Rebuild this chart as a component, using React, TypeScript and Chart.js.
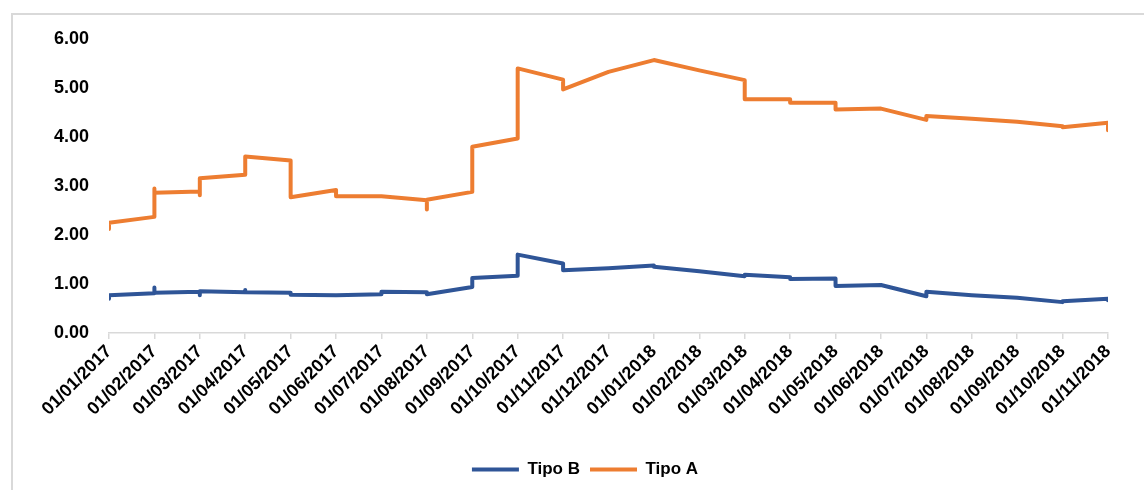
import { useEffect, useRef } from 'react';
import { Chart, registerables } from 'chart.js';

Chart.register(...registerables);

// Month ticks along the x axis (one category per month)
const monthLabels: string[] = [
  '01/01/2017', '01/02/2017', '01/03/2017', '01/04/2017', '01/05/2017', '01/06/2017',
  '01/07/2017', '01/08/2017', '01/09/2017', '01/10/2017', '01/11/2017', '01/12/2017',
  '01/01/2018', '01/02/2018', '01/03/2018', '01/04/2018', '01/05/2018', '01/06/2018',
  '01/07/2018', '01/08/2018', '01/09/2018', '01/10/2018', '01/11/2018',
];

// Readings grouped by month; several readings in one month share the same x
const tipoBByMonth: number[][] = [
  [0.70, 0.77],
  [0.81, 0.93, 0.82],
  [0.84, 0.77, 0.85],
  [0.83, 0.88, 0.83],
  [0.82, 0.78],
  [0.77],
  [0.79, 0.84],
  [0.83, 0.79],
  [0.94, 1.12],
  [1.17, 1.60],
  [1.42, 1.28],
  [1.32],
  [1.38, 1.35],
  [1.26],
  [1.16, 1.19],
  [1.14, 1.10],
  [1.11, 0.96],
  [0.98],
  [0.75, 0.84],
  [0.77],
  [0.72],
  [0.63, 0.65],
  [0.70, 0.67],
];

const tipoAByMonth: number[][] = [
  [2.12, 2.25],
  [2.37, 2.95, 2.86],
  [2.89, 2.81, 3.16],
  [3.23, 3.60],
  [3.52, 2.77],
  [2.92, 2.79],
  [2.79],
  [2.71, 2.52, 2.72],
  [2.88, 3.80],
  [3.97, 5.40],
  [5.17, 4.97],
  [5.33],
  [5.57],
  [5.36],
  [5.16, 4.77],
  [4.77, 4.70],
  [4.70, 4.56],
  [4.58],
  [4.35, 4.43],
  [4.37],
  [4.31],
  [4.22, 4.20],
  [4.29, 4.14],
];

const yTicks: number[] = [0, 1, 2, 3, 4, 5, 6];

const toPoints = (byMonth: number[][]) =>
  byMonth.flatMap((vals, i) => vals.map((v) => ({ x: i, y: v })));

const FONT = '"Liberation Sans", Arial, sans-serif';
const GRID = '#d9d9d9';

// Light frame along the top and left edges of the chart
const framePlugin = {
  id: 'frame',
  beforeDraw(chart: any) {
    const { ctx, width, height } = chart;
    ctx.save();
    ctx.fillStyle = '#ffffff';
    ctx.fillRect(0, 0, width, height);
    ctx.strokeStyle = GRID;
    ctx.lineWidth = 2;
    ctx.beginPath();
    ctx.moveTo(12, height);
    ctx.lineTo(12, 14);
    ctx.lineTo(width, 14);
    ctx.stroke();
    ctx.restore();
  },
};

export default function App() {
  const canvasRef = useRef<HTMLCanvasElement | null>(null);

  useEffect(() => {
    if (!canvasRef.current) return;
    const chart = new Chart(canvasRef.current, {
      type: 'line',
      data: {
        datasets: [
          {
            label: 'Tipo B',
            data: toPoints(tipoBByMonth),
            borderColor: '#2f5597',
            backgroundColor: '#2f5597',
            borderWidth: 4,
            borderJoinStyle: 'round',
            borderCapStyle: 'round',
            pointRadius: 0,
            pointStyle: 'line',
            tension: 0,
          },
          {
            label: 'Tipo A',
            data: toPoints(tipoAByMonth),
            borderColor: '#ed7d31',
            backgroundColor: '#ed7d31',
            borderWidth: 4,
            borderJoinStyle: 'round',
            borderCapStyle: 'round',
            pointRadius: 0,
            pointStyle: 'line',
            tension: 0,
          },
        ],
      },
      options: {
        animation: false,
        responsive: false,
        layout: { padding: { left: 26, right: 0, top: 39, bottom: 2 } },
        plugins: {
          legend: {
            position: 'bottom',
            labels: {
              usePointStyle: true,
              pointStyleWidth: 47,
              padding: 10,
              color: '#000000',
              font: { family: FONT, weight: 'bold', size: 17 },
            },
          },
          tooltip: { enabled: false },
        },
        scales: {
          x: {
            type: 'linear',
            min: 0,
            max: monthLabels.length - 1,
            afterBuildTicks: (s: any) => {
              s.ticks = monthLabels.map((_, i) => ({ value: i }));
            },
            afterFit: (s: any) => {
              s.height = 118;
            },
            ticks: {
              callback: (v: any) => monthLabels[v] ?? '',
              autoSkip: false,
              minRotation: 45,
              maxRotation: 45,
              padding: 2,
              color: '#000000',
              font: { family: FONT, weight: 'bold', size: 18 },
            },
            grid: { drawOnChartArea: false, color: GRID, lineWidth: 1.5, tickLength: 6 },
            border: { color: GRID, width: 1.5 },
          },
          y: {
            min: 0,
            max: 6,
            afterBuildTicks: (s: any) => {
              s.ticks = yTicks.map((v) => ({ value: v }));
            },
            afterFit: (s: any) => {
              s.width = 83;
            },
            ticks: {
              callback: (v: any) => Number(v).toFixed(2),
              padding: 20,
              color: '#000000',
              font: { family: FONT, weight: 'bold', size: 18 },
            },
            grid: { display: false, drawTicks: false },
            border: { display: false },
          },
          // empty spacer on the right edge
          yRight: {
            position: 'right',
            afterFit: (s: any) => {
              s.width = 36;
            },
            ticks: { display: false },
            grid: { display: false, drawTicks: false },
            border: { display: false },
          },
        },
      },
      plugins: [framePlugin],
    });
    return () => chart.destroy();
  }, []);

  return (
    <div style={{ position: 'absolute', left: 0, top: 0, width: 1144, height: 490 }}>
      <canvas ref={canvasRef} width={1144} height={490} style={{ width: 1144, height: 490 }} />
    </div>
  );
}
